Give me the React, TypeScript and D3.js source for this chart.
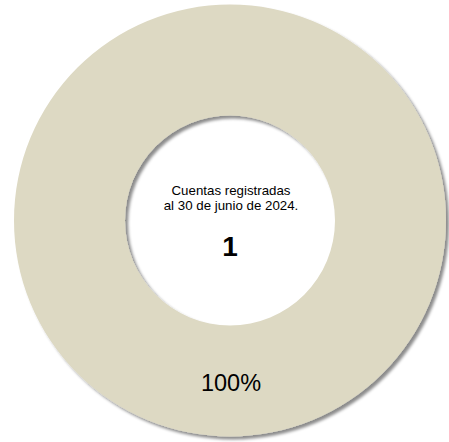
import React from "react";
import * as d3 from "d3";

const categories = ["Cuentas registradas"];
const values = [1];
const centerLines = ["Cuentas registradas", "al 30 de junio de 2024."];
const totalLabel = "1";
const colors = ["#DDD9C3"];

const W = 449;
const H = 442;

export default function App() {
  const cx = 230;
  const cy = 220.5;
  const outerR = 216;
  const innerR = 105;
  const data = categories.map((c, i) => ({ cat: c, value: values[i] }));
  const total = d3.sum(values);
  const pie = d3.pie<{ cat: string; value: number }>().value((d) => d.value).sort(null).startAngle(0).endAngle(2 * Math.PI);
  const arcs = pie(data);
  const arc = d3.arc<d3.PieArcDatum<{ cat: string; value: number }>>().innerRadius(innerR).outerRadius(outerR);
  const fmt = d3.format(".0%");
  const font = "'Liberation Sans', Arial, sans-serif";
  return (
    <svg width={W} height={H} style={{ position: "absolute", left: 0, top: 0, background: "#fff" }}>
      <defs>
        <filter id="sh" x="-10%" y="-10%" width="120%" height="120%">
          <feDropShadow dx="3" dy="3" stdDeviation="1.8" floodColor="#000" floodOpacity="0.45" />
        </filter>
      </defs>
      <g transform={`translate(${cx},${cy})`}>
        {arcs.map((a, i) => (
          <path key={i} d={arc(a) || ""} fill={colors[i]} filter="url(#sh)" />
        ))}
        {arcs.map((a, i) => {
          const [x, y] = arc.centroid(a);
          return (
            <text key={"l" + i} x={x + 1} y={y + 9.5} textAnchor="middle" fontFamily={font} fontSize={23.5} fill="#000">
              {fmt(a.data.value / total)}
            </text>
          );
        })}
        {centerLines.map((t, i) => (
          <text key={"c" + i} x={1} y={-25.5 + i * 14.8} textAnchor="middle" fontFamily={font} fontSize={13.3} fill="#000">
            {t}
          </text>
        ))}
        <text x={0} y={35.5} textAnchor="middle" fontFamily={font} fontSize={28} fontWeight="bold" fill="#000">
          {totalLabel}
        </text>
      </g>
    </svg>
  );
}
